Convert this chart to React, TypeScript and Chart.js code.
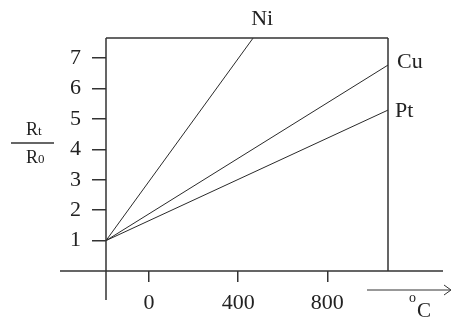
import { useEffect, useRef } from "react";
import { Chart, registerables } from "chart.js";

Chart.register(...registerables);

// ---- data ----
const seriesNames = ["Ni", "Cu", "Pt"];
const niTemps = [-193, 467];
const niRatios = [1, 7.66];
const cuTemps = [-193, 1072];
const cuRatios = [1, 6.77];
const ptTemps = [-193, 1072];
const ptRatios = [1, 5.29];
const xTickValues = [0, 400, 800];
const yTickValues = [1, 2, 3, 4, 5, 6, 7];
const xMin = -193;
const xMax = 1072;
const yMin = 0;
const yMax = 7.66;

const SERIF = "'Liberation Serif', 'Times New Roman', serif";
const INK = "#333";

const toPoints = (xs: number[], ys: number[]) => xs.map((x, i) => ({ x, y: ys[i] }));

const labelStyle: Record<string, { dx: number; dy: number; align: CanvasTextAlign }> = {
  Ni: { dx: 9, dy: -13, align: "center" },
  Cu: { dx: 9, dy: 3, align: "left" },
  Pt: { dx: 7, dy: 7, align: "left" },
};

const decorPlugin = {
  id: "decor",
  afterDatasetsDraw(chart: any) {
    const { ctx, chartArea: a, scales } = chart;
    const xs = scales.x;
    const ys = scales.y;
    ctx.save();
    ctx.strokeStyle = INK;
    ctx.lineWidth = 1.5;
    ctx.beginPath();
    ctx.moveTo(a.left, a.top);
    ctx.lineTo(a.right, a.top);
    ctx.moveTo(a.right, a.top);
    ctx.lineTo(a.right, a.bottom);
    ctx.moveTo(a.left, a.top);
    ctx.lineTo(a.left, a.bottom + 29);
    ctx.moveTo(a.left - 46, a.bottom);
    ctx.lineTo(a.right + 55, a.bottom);
    ctx.stroke();

    // arrow for unit
    ctx.lineWidth = 1;
    ctx.beginPath();
    const ay = a.bottom + 19;
    ctx.moveTo(a.right - 21, ay);
    ctx.lineTo(a.right + 62, ay);
    ctx.moveTo(a.right + 56, ay - 5);
    ctx.lineTo(a.right + 63, ay);
    ctx.moveTo(a.right + 56, ay + 5);
    ctx.lineTo(a.right + 63, ay);
    ctx.stroke();

    ctx.fillStyle = "#222";
    ctx.textBaseline = "alphabetic";
    // degree C
    ctx.textAlign = "left";
    ctx.font = `14px ${SERIF}`;
    ctx.fillText("o", a.right + 21, a.bottom + 31);
    ctx.font = `21px ${SERIF}`;
    ctx.fillText("C", a.right + 29, a.bottom + 46);

    // Rt / R0
    ctx.font = `18px ${SERIF}`;
    ctx.fillText("R", 26, 135);
    ctx.fillText("R", 26, 163);
    ctx.font = `13px ${SERIF}`;
    ctx.fillText("t", 38, 135);
    ctx.fillText("0", 38, 163);
    ctx.lineWidth = 1.5;
    ctx.beginPath();
    ctx.moveTo(11, 143);
    ctx.lineTo(54, 143);
    ctx.stroke();

    // series labels at line ends
    ctx.font = `22px ${SERIF}`;
    chart.data.datasets.forEach((ds: any) => {
      const pts = ds.data;
      const p0 = pts[0];
      const p1 = pts[pts.length - 1];
      let ex = p1.x;
      let ey = p1.y;
      if (ey > yMax) {
        const t = (yMax - p0.y) / (p1.y - p0.y);
        ex = p0.x + t * (p1.x - p0.x);
        ey = yMax;
      }
      if (ex > xMax) {
        const t = (xMax - p0.x) / (p1.x - p0.x);
        ey = p0.y + t * (p1.y - p0.y);
        ex = xMax;
      }
      const st = labelStyle[ds.label];
      ctx.textAlign = st.align;
      ctx.fillText(ds.label, xs.getPixelForValue(ex) + st.dx, ys.getPixelForValue(ey) + st.dy);
    });
    ctx.restore();
  },
};

export default function App() {
  const ref = useRef<HTMLCanvasElement | null>(null);
  useEffect(() => {
    if (!ref.current) return;
    const seriesData = [
      toPoints(niTemps, niRatios),
      toPoints(cuTemps, cuRatios),
      toPoints(ptTemps, ptRatios),
    ];
    const chart = new Chart(ref.current, {
      type: "line",
      data: {
        datasets: seriesNames.map((name, i) => ({
          label: name,
          data: seriesData[i],
          borderColor: "#2a2a2a",
          borderWidth: 1,
          pointRadius: 0,
          fill: false,
          tension: 0,
        })),
      },
      options: {
        responsive: false,
        animation: false,
        devicePixelRatio: 1,
        layout: { padding: { top: 38, right: 64, left: 0, bottom: 0 } },
        plugins: { legend: { display: false }, tooltip: { enabled: false }, title: { display: false } },
        scales: {
          x: {
            type: "linear",
            min: xMin,
            max: xMax,
            afterFit: (s: any) => {
              s.height = 49;
            },
            afterBuildTicks: (s: any) => {
              s.ticks = xTickValues.map((v) => ({ value: v }));
            },
            grid: { display: true, drawOnChartArea: false, drawTicks: true, tickLength: 11, color: INK, lineWidth: 1.5 },
            border: { display: false },
            ticks: {
              color: "#222",
              font: { family: SERIF, size: 22 },
              padding: 8,
              maxRotation: 0,
              callback: (v: any) => String(v),
            },
          },
          y: {
            type: "linear",
            min: yMin,
            max: yMax,
            afterFit: (s: any) => {
              s.width = 106;
            },
            afterBuildTicks: (s: any) => {
              s.ticks = yTickValues.map((v) => ({ value: v }));
            },
            grid: { display: true, drawOnChartArea: false, drawTicks: true, tickLength: 14, color: INK, lineWidth: 1.5 },
            border: { display: false },
            ticks: {
              color: "#222",
              font: { family: SERIF, size: 22 },
              padding: 11,
              callback: (v: any) => String(v),
            },
          },
        },
      },
      plugins: [decorPlugin],
    });
    return () => chart.destroy();
  }, []);
  return (
    <div style={{ position: "absolute", left: 0, top: 0, width: 452, height: 320, background: "#fff" }}>
      <canvas ref={ref} width={452} height={320} style={{ width: 452, height: 320, display: "block" }} />
    </div>
  );
}
